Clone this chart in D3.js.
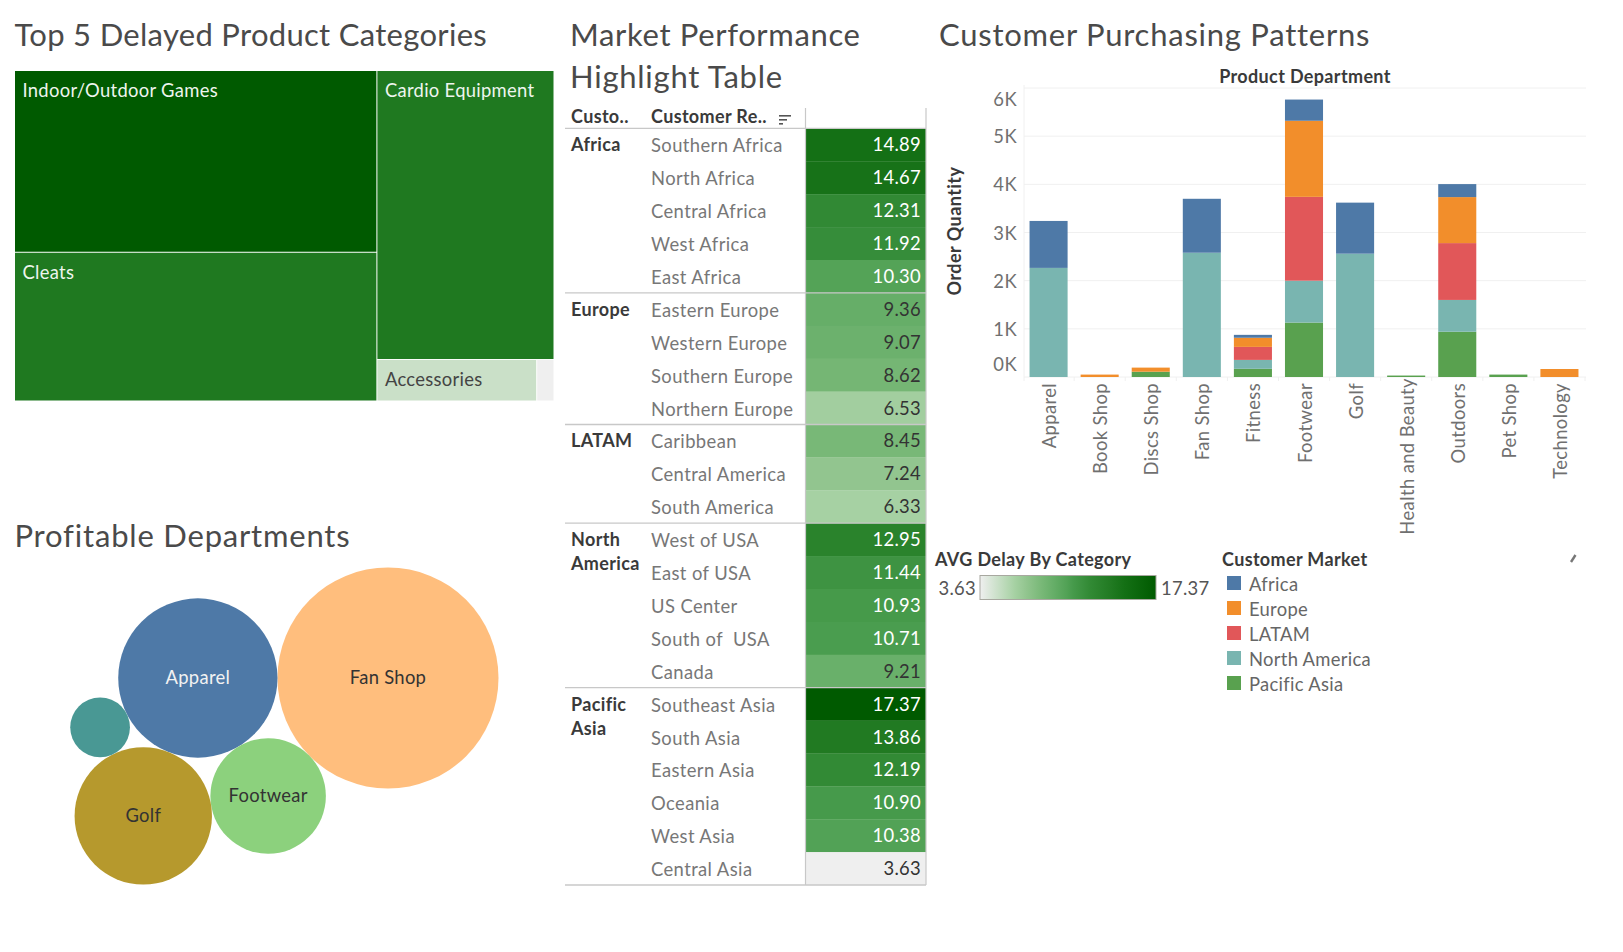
<!DOCTYPE html>
<html>
<head>
<meta charset="utf-8">
<script src="https://cdn.jsdelivr.net/npm/d3@7"></script>
<style>
  html, body { margin: 0; background: #fff; }
  svg text { font-family: Lato, "Open Sans", sans-serif; white-space: pre; }
  .title { font-size: 31px; fill: #4a4a4a; }
  .label { font-size: 18.4px; letter-spacing: 0.3px; }
  .head { font-size: 18px; font-weight: 700; fill: #3a3a3a; letter-spacing: 0.35px; }
  .tick text { font-size: 18.4px; fill: #707070; letter-spacing: 0.4px; }
</style>
</head>
<body>
<svg id="chart" width="1623" height="952"></svg>
<script>
// treemap: top delayed categories
const treeCategories = ['Indoor/Outdoor Games', 'Cleats', 'Cardio Equipment', 'Accessories', ''];
const treeColumn = ['a', 'a', 'b', 'b', 'b'];
const treeRow = ['top', 'bottom', 'top', 'bottom', 'bottom'];
const treeSizes = [60.6, 49.6, 47.1, 6.1, 0.66];
const treeDelay = [17.37, 14.0, 14.0, 5.0, 3.63];

// bubbles: profitable departments
const bubbleNames = ['Fan Shop', 'Apparel', 'Footwear', 'Golf', 'Outdoors'];
const bubbleLabels = ['Fan Shop', 'Apparel', 'Footwear', 'Golf', ''];
const bubbleProfit = [12321, 6400, 3364, 4761, 900];
const bubbleColors = ['#ffbe7d', '#4e79a7', '#8cd17d', '#b6992d', '#499894'];

// highlight table
const regionMarket = ['Africa', 'Africa', 'Africa', 'Africa', 'Africa',
  'Europe', 'Europe', 'Europe', 'Europe',
  'LATAM', 'LATAM', 'LATAM',
  'North America', 'North America', 'North America', 'North America', 'North America',
  'Pacific Asia', 'Pacific Asia', 'Pacific Asia', 'Pacific Asia', 'Pacific Asia', 'Pacific Asia'];
const regionNames = ['Southern Africa', 'North Africa', 'Central Africa', 'West Africa', 'East Africa',
  'Eastern Europe', 'Western Europe', 'Southern Europe', 'Northern Europe',
  'Caribbean', 'Central America', 'South America',
  'West of USA', 'East of USA', 'US Center', 'South of  USA', 'Canada',
  'Southeast Asia', 'South Asia', 'Eastern Asia', 'Oceania', 'West Asia', 'Central Asia'];
const regionDelay = [14.89, 14.67, 12.31, 11.92, 10.30,
  9.36, 9.07, 8.62, 6.53,
  8.45, 7.24, 6.33,
  12.95, 11.44, 10.93, 10.71, 9.21,
  17.37, 13.86, 12.19, 10.90, 10.38, 3.63];

// stacked bars
const departments = ['Apparel', 'Book Shop', 'Discs Shop', 'Fan Shop', 'Fitness', 'Footwear', 'Golf',
  'Health and Beauty', 'Outdoors', 'Pet Shop', 'Technology'];
const marketNames = ['Africa', 'Europe', 'LATAM', 'North America', 'Pacific Asia'];
const marketColors = ['#4e79a7', '#f28e2b', '#e15759', '#79b5b0', '#59a14f'];
const africaQty = [975, 0, 0, 1120, 60, 440, 1060, 0, 270, 0, 0];
const europeQty = [0, 50, 85, 0, 190, 1580, 0, 0, 955, 0, 166];
const latamQty = [0, 0, 0, 0, 270, 1740, 0, 0, 1180, 0, 0];
const northAmericaQty = [2265, 0, 0, 2580, 185, 870, 2560, 0, 660, 0, 0];
const pacificAsiaQty = [0, 0, 110, 0, 170, 1130, 0, 30, 940, 50, 0];
const qtyTicks = [0, 1000, 2000, 3000, 4000, 5000, 6000];

const svg = d3.select('#chart');

const delayColor = d3.scaleLinear()
  .domain([3.63, 6.33, 7.24, 8.45, 9.36, 10.38, 10.9, 12.19, 13.86, 14.89, 17.37])
  .range(['#efefef', '#a6d1a3', '#92c58f', '#78b877', '#66ae68', '#52a256', '#469a4b', '#328a35', '#217a22', '#147015', '#005a00']);

function addTitle(text, x, y, spacing) {
  svg.append('text')
    .attr('class', 'title')
    .attr('x', x)
    .attr('y', y)
    .style('letter-spacing', spacing + 'px')
    .text(text);
}

addTitle('Top 5 Delayed Product Categories', 14.5, 46, 0.3);
addTitle('Market Performance', 570, 46, 0.65);
addTitle('Highlight Table', 570, 88, 0.75);
addTitle('Customer Purchasing Patterns', 939, 46, 0.75);
addTitle('Profitable Departments', 14.5, 547, 0.8);

// ---- treemap
const treeRoot = d3.hierarchy(d3.group(d3.range(treeCategories.length), (i) => treeColumn[i], (i) => treeRow[i]))
  .sum((d) => (typeof d === 'number' ? treeSizes[d] : 0));

d3.treemap()
  .size([538.5, 329.5])
  .paddingInner(1)
  .tile((node, x0, y0, x1, y1) => {
    (node.depth === 1 ? d3.treemapSlice : d3.treemapDice)(node, x0, y0, x1, y1);
  })(treeRoot);

const treeCell = svg.append('g')
  .attr('transform', 'translate(15,71)')
  .selectAll('g')
  .data(treeRoot.leaves())
  .join('g')
  .attr('transform', (d) => `translate(${d.x0},${d.y0})`);

treeCell.append('rect')
  .attr('width', (d) => d.x1 - d.x0)
  .attr('height', (d) => d.y1 - d.y0)
  .attr('fill', (d) => delayColor(treeDelay[d.data]));

treeCell.append('text')
  .attr('class', 'label')
  .attr('x', 7.5)
  .attr('y', 26)
  .attr('fill', (d) => (treeDelay[d.data] < 9 ? '#444' : '#eef5ee'))
  .text((d) => treeCategories[d.data]);

// ---- bubbles
const bubbleRadius = d3.scaleSqrt().domain([0, 12321]).range([0, 110.5]);
const bubbles = bubbleNames.map((name, i) => ({ name, i, r: bubbleRadius(bubbleProfit[i]) }));

// centre of a circle touching a and b, on the right of the a -> b direction
function touching(a, b, r) {
  const ra = a.r + r, rb = b.r + r;
  const d = Math.hypot(b.x - a.x, b.y - a.y);
  const along = (ra * ra - rb * rb + d * d) / (2 * d);
  const off = Math.sqrt(ra * ra - along * along);
  const ux = (b.x - a.x) / d, uy = (b.y - a.y) / d;
  return { x: a.x + ux * along - uy * off, y: a.y + uy * along + ux * off };
}

const [fanShop, apparel, footwear, golf, outdoors] = bubbles;
fanShop.x = 388;
fanShop.y = 678;
apparel.x = fanShop.x - fanShop.r - apparel.r;
apparel.y = fanShop.y;
Object.assign(footwear, touching(apparel, fanShop, footwear.r));
Object.assign(golf, touching(apparel, footwear, golf.r));
Object.assign(outdoors, touching(apparel, golf, outdoors.r));

const bubbleG = svg.append('g')
  .selectAll('g')
  .data(bubbles)
  .join('g')
  .attr('transform', (d) => `translate(${d.x},${d.y})`);

bubbleG.append('circle')
  .attr('r', (d) => d.r)
  .attr('fill', (d) => bubbleColors[d.i]);

bubbleG.append('text')
  .attr('class', 'label')
  .attr('text-anchor', 'middle')
  .attr('dy', 6)
  .attr('fill', (d) => (d.name === 'Apparel' ? '#f2f2f2' : '#333'))
  .text((d) => bubbleLabels[d.i]);

// ---- highlight table
const tableLeft = 565, cellLeft = 805.5, tableRight = 926;
const rowY = d3.scaleBand().domain(regionNames).range([128.4, 885]);

const rows = svg.append('g')
  .selectAll('g')
  .data(regionNames)
  .join('g')
  .attr('transform', (d) => `translate(0,${rowY(d)})`);

rows.append('rect')
  .attr('x', cellLeft)
  .attr('width', tableRight - cellLeft)
  .attr('height', rowY.bandwidth() + 0.3)
  .attr('fill', (d, i) => delayColor(regionDelay[i]));

rows.append('text')
  .attr('class', 'label')
  .attr('x', 651)
  .attr('y', 24)
  .attr('fill', '#777')
  .style('letter-spacing', '0.4px')
  .text((d) => d);

rows.append('text')
  .attr('class', 'label')
  .attr('x', 921)
  .attr('y', 23)
  .attr('text-anchor', 'end')
  .attr('fill', (d, i) => (regionDelay[i] > 10 ? '#fff' : '#333'))
  .text((d, i) => regionDelay[i].toFixed(2));

// market labels and the rules between market groups
const marketFirst = d3.rollup(regionNames, (v) => v[0], (d) => regionMarket[regionNames.indexOf(d)]);

marketFirst.forEach((first, market) => {
  const y = rowY(first);
  svg.append('line')
    .attr('x1', tableLeft).attr('x2', tableRight)
    .attr('y1', y).attr('y2', y)
    .attr('stroke', '#c8c8c8').attr('stroke-width', 1.4);
  market.split(' ').forEach((word, i) => {
    svg.append('text')
      .attr('class', 'head')
      .attr('x', 571)
      .attr('y', y + 23 + i * 24)
      .text(word);
  });
});

svg.append('line')
  .attr('x1', tableLeft).attr('x2', tableRight)
  .attr('y1', 885).attr('y2', 885)
  .attr('stroke', '#c8c8c8').attr('stroke-width', 1.4);
[cellLeft, tableRight].forEach((x) => {
  svg.append('line')
    .attr('x1', x).attr('x2', x)
    .attr('y1', 108).attr('y2', 885)
    .attr('stroke', '#c8c8c8').attr('stroke-width', 1.2);
});

svg.append('text').attr('class', 'head').attr('x', 571).attr('y', 123).text('Custo..');
svg.append('text').attr('class', 'head').attr('x', 651).attr('y', 123).text('Customer Re..');
// sort icon
[12, 8, 4].forEach((w, i) => {
  svg.append('rect')
    .attr('x', 779).attr('y', 115 + i * 4)
    .attr('width', w).attr('height', 1.6)
    .attr('fill', '#555');
});

// ---- stacked bars
const qtyRows = departments.map((name, i) => ({
  name,
  'Africa': africaQty[i],
  'Europe': europeQty[i],
  'LATAM': latamQty[i],
  'North America': northAmericaQty[i],
  'Pacific Asia': pacificAsiaQty[i],
}));

const x = d3.scaleBand().domain(departments).range([1023, 1585]).paddingInner(0.255).paddingOuter(0.128);
const y = d3.scaleLinear().domain([0, 6000]).range([377, 88]);
const marketColor = d3.scaleOrdinal().domain(marketNames).range(marketColors);

svg.append('g')
  .selectAll('line')
  .data(qtyTicks)
  .join('line')
  .attr('x1', 1024).attr('x2', 1586)
  .attr('y1', (d) => y(d)).attr('y2', (d) => y(d))
  .attr('stroke', '#f0f0f0');

svg.append('line')
  .attr('x1', 1024).attr('x2', 1024).attr('y1', 85).attr('y2', 381)
  .attr('stroke', '#f0f0f0');

svg.append('g')
  .selectAll('line')
  .data(departments)
  .join('line')
  .attr('x1', (d) => x(d) + x.bandwidth() + x.step() * 0.128)
  .attr('x2', (d) => x(d) + x.bandwidth() + x.step() * 0.128)
  .attr('y1', 377).attr('y2', 381)
  .attr('stroke', '#f0f0f0');

const stacked = d3.stack().keys(marketNames.slice().reverse())(qtyRows);

svg.append('g')
  .selectAll('g')
  .data(stacked)
  .join('g')
  .attr('fill', (d) => marketColor(d.key))
  .selectAll('rect')
  .data((d) => d)
  .join('rect')
  .attr('x', (d) => x(d.data.name))
  .attr('width', x.bandwidth())
  .attr('y', (d) => y(d[1]))
  .attr('height', (d) => y(d[0]) - y(d[1]));

svg.append('g')
  .attr('transform', 'translate(1017,0)')
  .call(d3.axisLeft(y).tickValues(qtyTicks).tickSize(0).tickFormat((d) => d / 1000 + 'K'))
  .call((g) => g.select('.domain').remove())
  .call((g) => g.selectAll('.tick text')
    .attr('x', 0)
    // first and last labels sit inside the plot
    .attr('dy', (d) => (d === 6000 ? 17 : d === 0 ? -7 : 6.5)));

svg.append('g')
  .attr('transform', 'translate(0,383)')
  .call(d3.axisBottom(x).tickSize(0))
  .call((g) => g.select('.domain').remove())
  .call((g) => g.selectAll('.tick text')
    .attr('transform', 'rotate(-90)')
    .attr('text-anchor', 'end')
    // the longest label starts a little higher than the others
    .attr('x', (d) => (d === 'Health and Beauty' ? 5 : 0))
    .attr('y', 0)
    .attr('dy', 7.5));

svg.append('text')
  .attr('class', 'head')
  .attr('text-anchor', 'middle')
  .attr('x', 1305).attr('y', 83)
  .text('Product Department');

svg.append('text')
  .attr('class', 'head')
  .attr('text-anchor', 'middle')
  .attr('transform', 'translate(961,231) rotate(-90)')
  .style('letter-spacing', '0.45px')
  .text('Order Quantity');

// ---- legends
svg.append('text').attr('class', 'head').attr('x', 935).attr('y', 566).text('AVG Delay By Category');

const legendGradient = svg.append('defs').append('linearGradient').attr('id', 'delayGradient');
legendGradient.selectAll('stop')
  .data(delayColor.domain())
  .join('stop')
  .attr('offset', (d) => (d - 3.63) / (17.37 - 3.63))
  .attr('stop-color', (d) => delayColor(d));

svg.append('rect')
  .attr('x', 980).attr('y', 575.5)
  .attr('width', 176).attr('height', 24)
  .attr('fill', 'url(#delayGradient)')
  .attr('stroke', '#a8a8a0');

svg.append('text').attr('class', 'label').attr('x', 976).attr('y', 595)
  .attr('text-anchor', 'end').attr('fill', '#555').text('3.63');
svg.append('text').attr('class', 'label').attr('x', 1161).attr('y', 595)
  .attr('fill', '#555').text('17.37');

svg.append('text').attr('class', 'head').attr('x', 1222).attr('y', 566).text('Customer Market');

const legendRow = svg.append('g')
  .selectAll('g')
  .data(marketNames)
  .join('g')
  .attr('transform', (d, i) => `translate(1227,${576 + i * 25})`);

legendRow.append('rect')
  .attr('width', 14).attr('height', 14)
  .attr('fill', (d) => marketColor(d));

legendRow.append('text')
  .attr('class', 'label')
  .attr('x', 22).attr('y', 15)
  .attr('fill', '#666')
  .text((d) => d);

// pencil mark next to the legend
svg.append('line')
  .attr('x1', 1571).attr('y1', 562).attr('x2', 1575.5).attr('y2', 555)
  .attr('stroke', '#777').attr('stroke-width', 2.4);
</script>
</body>
</html>
